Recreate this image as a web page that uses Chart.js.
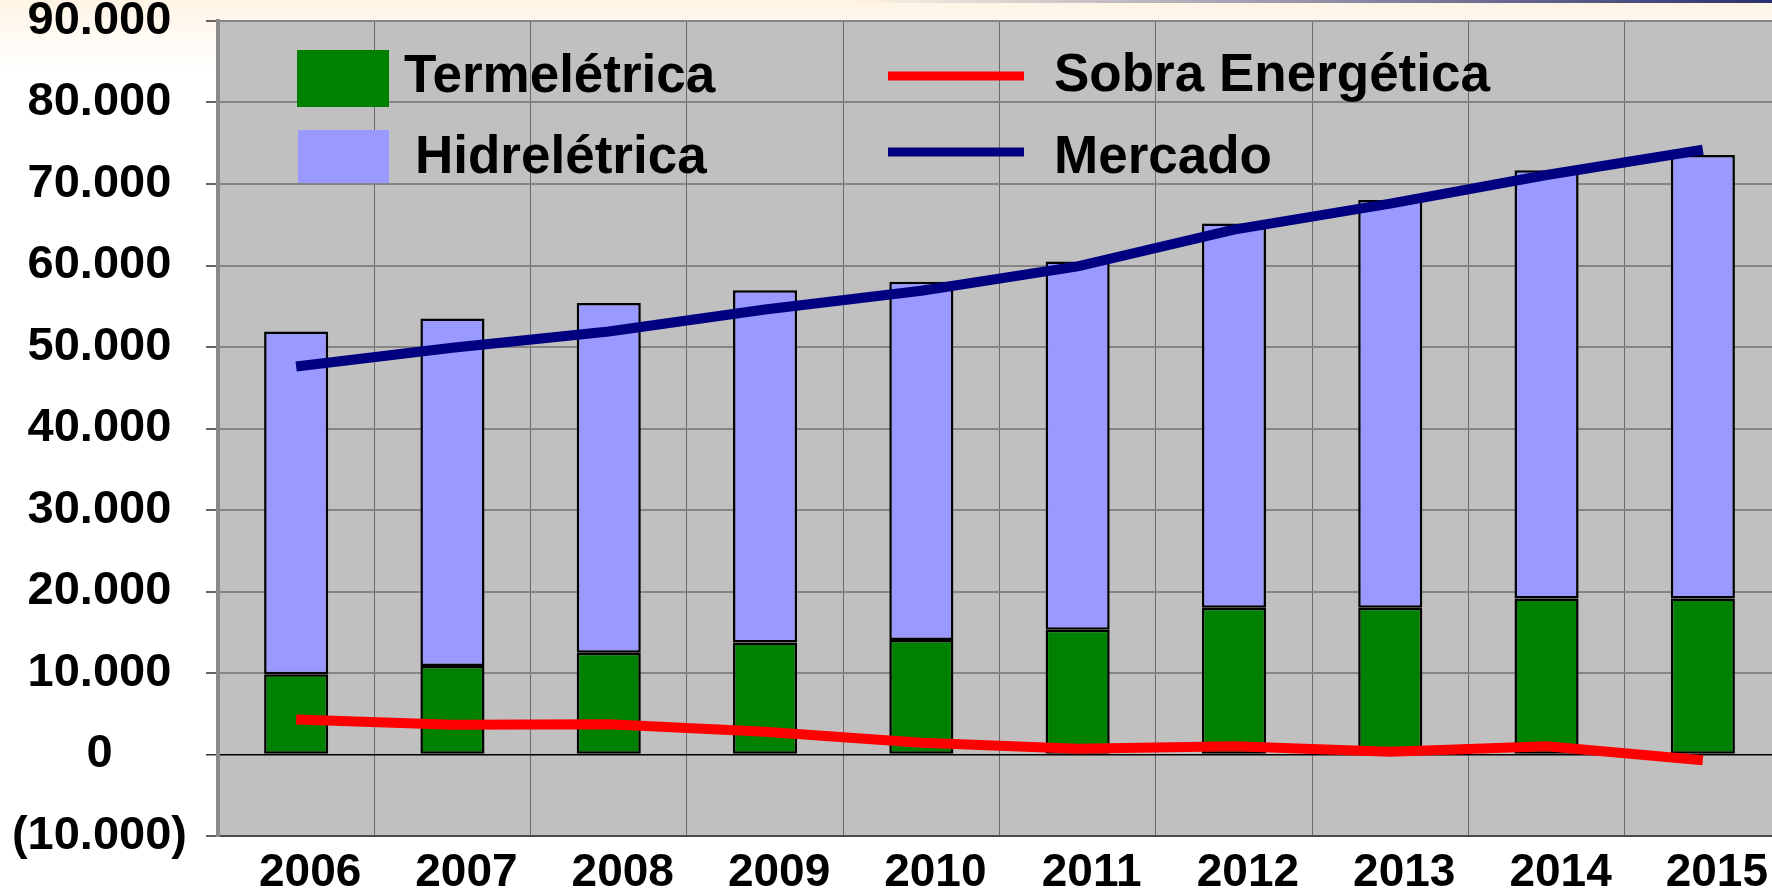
<!DOCTYPE html>
<html>
<head>
<meta charset="utf-8">
<script src="https://cdn.jsdelivr.net/npm/chart.js@4.4.1/dist/chart.umd.min.js"></script>
<style>
  html, body {
    margin: 0; padding: 0; width: 1772px; height: 894px; overflow: hidden;
    background: linear-gradient(to bottom, #fff4e3 0px, #fff7ec 18px, #ffffff 70px);
  }
  #topline {
    position: absolute; left: 850px; top: 0; width: 922px; height: 3px;
    background: linear-gradient(to right, rgba(255,255,255,0), #2b2f6e);
  }
  #wrap { position: absolute; left: 0; top: 0; width: 1781px; height: 894px; }
</style>
</head>
<body>
<div id="topline"></div>
<div id="wrap"><canvas id="chart" width="1781" height="894"></canvas></div>
<script>
"use strict";

// Data (MW médios)
const YEARS        = ["2006", "2007", "2008", "2009", "2010", "2011", "2012", "2013", "2014", "2015"];
const TERMELETRICA = [9850, 10850, 12500, 13750, 14050, 15300, 18000, 18000, 19150, 19150];
const HIDRELETRICA = [42050, 42650, 42900, 43200, 43950, 45200, 47150, 50050, 52550, 54400];
const SOBRA        = [4300, 3650, 3700, 2800, 1450, 700, 1000, 350, 1000, -700];
const MERCADO      = [47600, 49900, 51900, 54600, 56900, 59900, 64400, 67600, 71100, 74200];

// Axis range
const Y_MIN  = -10000;
const Y_MAX  = 90000;
const Y_STEP = 10000;

const COLORS = {
  termo:   "#008000",
  hidro:   "#9999ff",
  sobra:   "#ff0000",
  mercado: "#000080",
  plot:    "#c0c0c0"
};

const FONT = "'Liberation Sans', Arial, sans-serif";

// legend boxes drawn inside the plot (canvas pixels), one per dataset
const LEGEND_POS = [
  { x: 297, y: 50,  w: 92,  h: 57, tx: 404,  ty: 92 },
  { x: 298, y: 130, w: 91,  h: 53, tx: 415,  ty: 173 },
  { x: 888, y: 76,  w: 136, h: 0,  tx: 1054, ty: 91 },
  { x: 888, y: 152, w: 136, h: 0,  tx: 1054, ty: 173 }
];

function fmtThousands(v) {
  return Math.abs(v).toString().replace(/\B(?=(\d{3})+(?!\d))/g, ".");
}

const plotBackground = {
  id: "plotBackground",
  beforeDraw(chart) {
    const { ctx, chartArea: a } = chart;
    ctx.save();
    ctx.fillStyle = COLORS.plot;
    ctx.fillRect(a.left, a.top, a.right - a.left, a.bottom - a.top);
    ctx.restore();
  }
};

const insideLegend = {
  id: "insideLegend",
  afterDraw(chart) {
    const ctx = chart.ctx;
    ctx.save();
    ctx.font = "bold 53px " + FONT;
    ctx.textBaseline = "alphabetic";
    chart.data.datasets.forEach((ds, i) => {
      const p = LEGEND_POS[i];
      if (ds.type === "line") {
        ctx.strokeStyle = ds.borderColor;
        ctx.lineWidth = 9;
        ctx.beginPath();
        ctx.moveTo(p.x, p.y);
        ctx.lineTo(p.x + p.w, p.y);
        ctx.stroke();
      } else {
        ctx.fillStyle = ds.backgroundColor;
        ctx.fillRect(p.x, p.y, p.w, p.h);
      }
      ctx.fillStyle = "#000";
      ctx.fillText(ds.label, p.tx, p.ty);
    });
    ctx.restore();
  }
};

const ctx = document.getElementById("chart").getContext("2d");

new Chart(ctx, {
  type: "bar",
  data: {
    labels: YEARS,
    datasets: [
      {
        label: "Termelétrica",
        data: TERMELETRICA,
        backgroundColor: COLORS.termo,
        borderColor: "#000",
        borderWidth: 2.5,
        borderSkipped: false,
        barPercentage: 0.41,
        categoryPercentage: 1,
        stack: "oferta",
        order: 1
      },
      {
        label: "Hidrelétrica",
        data: HIDRELETRICA,
        backgroundColor: COLORS.hidro,
        borderColor: "#000",
        borderWidth: 2.5,
        borderSkipped: false,
        barPercentage: 0.41,
        categoryPercentage: 1,
        stack: "oferta",
        order: 1
      },
      {
        type: "line",
        label: "Sobra Energética",
        data: SOBRA,
        borderColor: COLORS.sobra,
        borderWidth: 10,
        pointRadius: 0,
        tension: 0,
        fill: false,
        stack: "sobra",
        order: 0
      },
      {
        type: "line",
        label: "Mercado",
        data: MERCADO,
        borderColor: COLORS.mercado,
        borderWidth: 10,
        pointRadius: 0,
        tension: 0,
        fill: false,
        stack: "mercado",
        order: 0
      }
    ]
  },
  options: {
    responsive: false,
    maintainAspectRatio: false,
    animation: false,
    layout: { padding: { top: 21, left: 0, right: 0, bottom: 0 } },
    plugins: {
      legend: { display: false },
      tooltip: { enabled: false }
    },
    scales: {
      x: {
        stacked: true,
        offset: true,
        grid: { offset: true, color: "#6a6a6a", lineWidth: 1, drawTicks: false },
        border: { color: "#4a4a4a", width: 2 },
        ticks: {
          color: "#000",
          font: { family: FONT, size: 46, weight: "bold" },
          padding: 10,
          labelOffset: 14,
          maxRotation: 0,
          autoSkip: false
        },
        afterFit(scale) {
          scale.height = 58;
          scale.paddingLeft = 0;
          scale.paddingRight = 0;
        }
      },
      y: {
        stacked: true,
        min: Y_MIN,
        max: Y_MAX,
        ticks: {
          stepSize: Y_STEP,
          crossAlign: "center",
          padding: 19,
          color: "#000",
          font: { family: FONT, size: 47, weight: "bold" },
          callback: v => v < 0 ? "(" + fmtThousands(v) + ")" : fmtThousands(v)
        },
        grid: {
          color: c => c.tick && c.tick.value === 0 ? "#000" : "#858585",
          lineWidth: c => c.tick && c.tick.value === 0 ? 1.5 : 2,
          tickLength: 12,
          tickColor: "#333",
          tickWidth: 1.5
        },
        border: { color: "#8a8a8a", width: 4 },
        afterFit(scale) {
          scale.width = 218;
          scale.paddingTop = 0;
          scale.paddingBottom = 0;
        }
      }
    }
  },
  plugins: [plotBackground, insideLegend]
});
</script>
</body>
</html>
